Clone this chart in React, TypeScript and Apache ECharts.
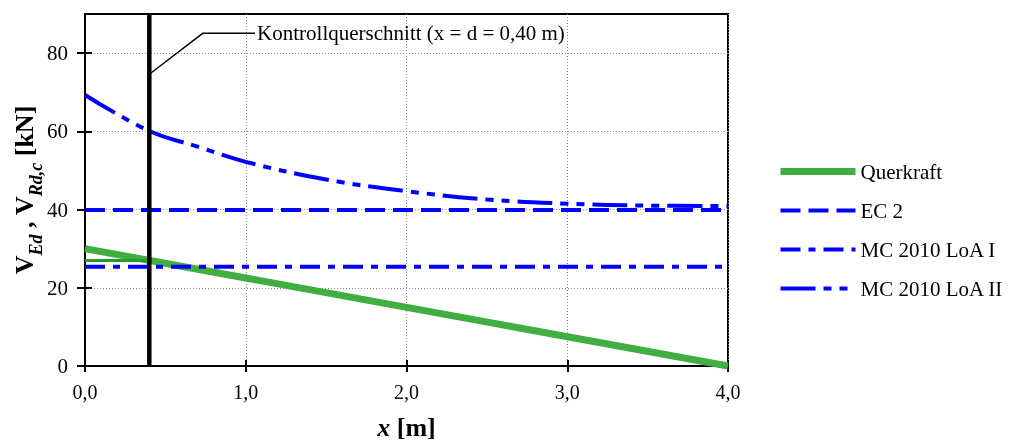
import React, { useEffect, useRef } from "react";
import * as echarts from "echarts";

// ---- data ----
const querkraftX = [0, 4];
const querkraftY = [30, 0];
const controlSegX = [0, 0.4];
const controlSegY = [27, 27];
const ec2X = [0, 4];
const ec2Y = [39.9, 39.9];
const loa1X = [0, 4];
const loa1Y = [25.4, 25.4];
const loa2X = [0, 0.4, 0.7, 1.0, 1.5, 2.0, 2.5, 3.0, 3.5, 4.0];
const loa2Y = [69.3, 60.1, 56.1, 52.2, 47.7, 44.7, 42.6, 41.5, 41.0, 40.9];
const controlX = 0.4;
const controlLineY = [0, 90];
const leaderX = [0.4, 0.734, 1.058];
const leaderY = [74.6, 85.1, 85.1];
const annotationText = "Kontrollquerschnitt (x = d = 0,40 m)";
const yTicks = [0, 20, 40, 60, 80];
const xTicks = [0, 1, 2, 3, 4];
const legendNames = ["Querkraft", "EC 2", "MC 2010 LoA I", "MC 2010 LoA II"];

const zip = (xs: number[], ys: number[]) => xs.map((x, i) => [x, ys[i]]);

const FONT = "Liberation Serif";
const BLUE = "#0000ff";
const GREEN = "#40ae40";

export default function App() {
  const ref = useRef<HTMLDivElement>(null);
  useEffect(() => {
    if (!ref.current) return;
    const chart = echarts.init(ref.current, undefined, { renderer: "svg" });
    const fmtX = (v: number) => v.toFixed(1).replace(".", ",");
    const baseX = {
      type: "value",
      min: 0,
      max: 4,
      interval: 1,
    };
    const baseY = {
      type: "value",
      min: 0,
      max: 90,
      interval: 20,
    };
    chart.setOption({
      animation: false,
      textStyle: { fontFamily: FONT },
      grid: {
        left: 85,
        top: 14,
        width: 643,
        height: 352,
        show: true,
        borderColor: "#000",
        borderWidth: 2,
        backgroundColor: "transparent",
        containLabel: false,
        outerBoundsMode: "none",
      },
      legend: {
        orient: "vertical",
        left: 777,
        top: 161,
        padding: 0,
        itemWidth: 75,
        itemHeight: 21,
        itemGap: 18,
        data: legendNames,
        textStyle: { fontFamily: FONT, fontSize: 21, color: "#000" },
        itemStyle: { opacity: 0 },
        lineStyle: { width: "inherit", type: "inherit", color: "inherit" },
      },
      xAxis: [
        {
          ...baseX,
          position: "bottom",
          axisLine: { show: true, onZero: false, lineStyle: { color: "#000", width: 2 } },
          axisTick: { show: true, length: 6, inside: false, lineStyle: { color: "#000", width: 2 }, customValues: xTicks },
          axisLabel: {
            show: true,
            margin: 16,
            fontFamily: FONT,
            fontSize: 20,
            color: "#000",
            formatter: fmtX,
            customValues: xTicks,
          },
          splitLine: { show: true, lineStyle: { color: "#8a8a8a", width: 1, type: [1, 2] } },
          name: "{i|x}{b| [m]}",
          nameLocation: "middle",
          nameGap: 48,
          nameMoveOverlap: false,
          nameTextStyle: {
            rich: {
              i: { fontFamily: FONT, fontSize: 26, fontWeight: "bold", fontStyle: "italic", color: "#000" },
              b: { fontFamily: FONT, fontSize: 26, fontWeight: "bold", color: "#000" },
            },
          },
        },
        {
          ...baseX,
          position: "bottom",
          axisLine: { show: false },
          axisTick: { show: true, length: 6, inside: true, lineStyle: { color: "#000", width: 2 }, customValues: xTicks },
          axisLabel: { show: false },
          splitLine: { show: false },
        },
      ],
      yAxis: [
        {
          ...baseY,
          position: "left",
          axisLine: { show: true, onZero: false, lineStyle: { color: "#000", width: 2 } },
          axisTick: { show: true, length: 8, inside: false, lineStyle: { color: "#000", width: 2 }, customValues: yTicks },
          axisLabel: {
            show: true,
            margin: 17,
            fontFamily: FONT,
            fontSize: 21,
            color: "#000",
            customValues: yTicks,
          },
          splitLine: { show: true, lineStyle: { color: "#8a8a8a", width: 1, type: [1, 2] } },
          name: "{V|V}{s|Ed}{n| , }{V|V}{s|Rd,c}{n| [kN]}",
          nameLocation: "middle",
          nameRotate: 90,
          nameGap: 40,
          nameMoveOverlap: false,
          nameTextStyle: {
            rich: {
              V: { fontFamily: FONT, fontSize: 26, fontWeight: "bold", color: "#000", lineHeight: 30, verticalAlign: "top" },
              n: { fontFamily: FONT, fontSize: 26, fontWeight: "bold", color: "#000", lineHeight: 30, verticalAlign: "top" },
              s: {
                fontFamily: FONT,
                fontSize: 18,
                fontWeight: "bold",
                fontStyle: "italic",
                color: "#000",
                lineHeight: 34,
                verticalAlign: "bottom",
              },
            },
          },
        },
        {
          ...baseY,
          position: "left",
          axisLine: { show: false },
          axisTick: { show: true, length: 7, inside: true, lineStyle: { color: "#000", width: 2 }, customValues: yTicks },
          axisLabel: { show: false },
          splitLine: { show: false },
        },
      ],
      series: [
        {
          name: "Querkraft",
          type: "line",
          data: zip(querkraftX, querkraftY),
          symbol: "none",
          lineStyle: { color: GREEN, width: 7 },
          itemStyle: { color: GREEN },
          z: 3,
        },
        {
          name: "Querkraft-Kontrollquerschnitt",
          type: "line",
          data: zip(controlSegX, controlSegY),
          symbol: "none",
          lineStyle: { color: "#2a9a2a", width: 3 },
          z: 3,
        },
        {
          name: "EC 2",
          type: "line",
          data: zip(ec2X, ec2Y),
          symbol: "none",
          lineStyle: { color: BLUE, width: 4, type: [20, 8], cap: "butt" },
          itemStyle: { color: BLUE },
          z: 4,
        },
        {
          name: "MC 2010 LoA I",
          type: "line",
          data: zip(loa1X, loa1Y),
          symbol: "none",
          lineStyle: { color: BLUE, width: 4, type: [20, 8, 7, 8], cap: "butt" },
          itemStyle: { color: BLUE },
          z: 4,
        },
        {
          name: "MC 2010 LoA II",
          type: "line",
          data: zip(loa2X, loa2Y),
          symbol: "none",
          smooth: 0.4,
          lineStyle: { color: BLUE, width: 4, type: [35, 8, 8, 8, 8, 8], cap: "butt" },
          itemStyle: { color: BLUE },
          z: 4,
        },
        {
          name: "Kontrollquerschnitt",
          type: "line",
          data: controlLineY.map((y) => [controlX, y]),
          symbol: "none",
          lineStyle: { color: "#000", width: 4.5 },
          z: 6,
        },
        {
          name: "Leader",
          type: "line",
          data: zip(leaderX, leaderY),
          symbol: "none",
          lineStyle: { color: "#000", width: 1.5 },
          z: 6,
          endLabel: {
            show: true,
            formatter: annotationText,
            fontFamily: FONT,
            fontSize: 21,
            color: "#000",
            distance: 2,
          },
        },
      ],
    });
    return () => chart.dispose();
  }, []);
  return (
    <div
      ref={ref}
      style={{ position: "fixed", left: 0, top: 0, width: 1010, height: 440 }}
    />
  );
}
